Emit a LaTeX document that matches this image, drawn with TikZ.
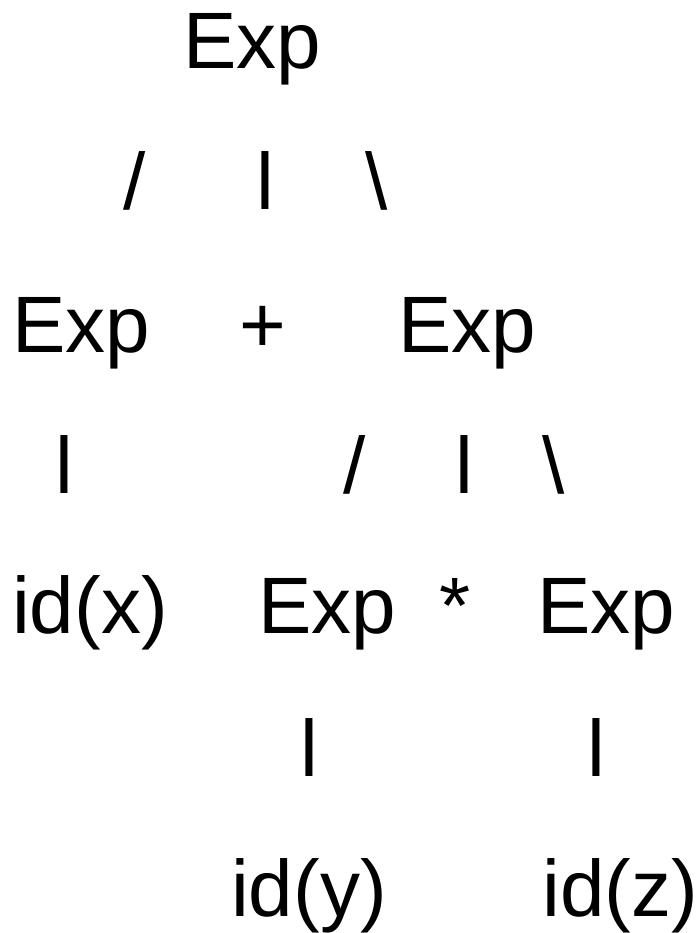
\documentclass[tikz,border=0pt]{standalone}
\usepackage{fontspec}
\setmainfont{Liberation Sans}
\begin{document}
\begin{tikzpicture}[x=1pt,y=-1pt,
  tok/.style={anchor=base,inner sep=0pt,outer sep=0pt,font=\fontsize{80}{96}\selectfont}]
\useasboundingbox (0,0) rectangle (699,933);
% row 1
\node[tok] (r1exp) at (252,69) {Exp};
% row 2
\node[tok] (r2a) at (134.5,210) {/};
\node[tok] (r2b) at (265,210) {l};
\node[tok] (r2c) at (377,210) {\textbackslash};
% row 3
\node[tok] (r3e1) at (81.5,352) {Exp};
\node[tok] (r3p) at (262.5,352) {+};
\node[tok] (r3e2) at (467,352) {Exp};
% row 4
\node[tok] (r4a) at (64.5,493) {l};
\node[tok] (r4b) at (354.5,493) {/};
\node[tok] (r4c) at (464,493) {l};
\node[tok] (r4d) at (553.5,493) {\textbackslash};
% row 5
\node[tok] (r5x) at (90,633) {id(x)};
\node[tok] (r5e1) at (327,633) {Exp};
\node[tok] (r5s) at (455,633) {*};
\node[tok] (r5e2) at (606.5,633) {Exp};
% row 6
\node[tok] (r6a) at (309.5,776) {l};
\node[tok] (r6b) at (596.5,776) {l};
% row 7
\node[tok] (r7y) at (309,916) {id(y)};
\node[tok] (r7z) at (620.5,916) {id(z)};
\end{tikzpicture}
\end{document}
